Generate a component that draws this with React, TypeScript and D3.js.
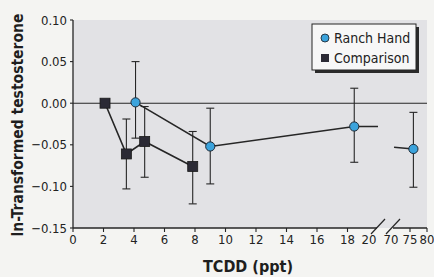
import React from "react";
import * as d3 from "d3";

// ---- data ----
const xTicks = [0, 2, 4, 6, 8, 10, 12, 14, 16, 18, 75, 80];
const xTickLabels = ["0", "2", "4", "6", "8", "10", "12", "14", "16", "18", "20", "70", "75", "80"];
const xLabelValues = [0, 2, 4, 6, 8, 10, 12, 14, 16, 18, 20, 70, 75, 80];
const yTicks = [0.1, 0.05, 0, -0.05, -0.1, -0.15];

const rhX = [4.1, 9.0, 18.6, 76];
const rhY = [0.001, -0.052, -0.028, -0.055];
const rhLo = [-0.042, -0.097, -0.071, -0.101];
const rhHi = [0.05, -0.006, 0.018, -0.011];
// line stubs into the axis break
const rhStubLeft = [39, -0.028];
const rhStubRight = [70.8, -0.053];

const cpX = [2.1, 3.5, 4.7, 7.85];
const cpY = [0.0, -0.061, -0.046, -0.076];
const cpLo: (number | null)[] = [null, -0.103, -0.089, -0.121];
const cpHi: (number | null)[] = [null, -0.019, -0.004, -0.034];

const W = 434;
const H = 277;
const left = 73;
const right = 427;
const top = 20;
const bottom = 228;

const font = "'Liberation Sans Narrow', 'DejaVu Sans Condensed', 'Roboto Condensed', 'Liberation Sans', sans-serif";

export default function App() {
  const x = d3.scaleLinear().domain([0, 18, 20, 70, 75, 80]).range([left, 347.5, 370, 391, 410, right]);
  const y = d3.scaleLinear().domain([-0.15, 0.1]).range([bottom, top]);
  const line = d3.line<[number, number]>().x((d) => x(d[0])).y((d) => y(d[1]));

  const rhPts: [number, number][] = rhX.map((v, i) => [v, rhY[i]]);
  const cpPts: [number, number][] = cpX.map((v, i) => [v, cpY[i]]);
  const rhSeg1: [number, number][] = [...rhPts.slice(0, 3), [rhStubLeft[0], rhStubLeft[1]]];
  const rhSeg2: [number, number][] = [[rhStubRight[0], rhStubRight[1]], rhPts[3]];

  const ink = "#262626";
  const cap = 4;

  const errBar = (xv: number, lo: number, hi: number, key: string) => (
    <g key={key} stroke={ink} strokeWidth={1.1}>
      <line x1={x(xv)} x2={x(xv)} y1={y(lo)} y2={y(hi)} />
      <line x1={x(xv) - cap} x2={x(xv) + cap} y1={y(lo)} y2={y(lo)} />
      <line x1={x(xv) - cap} x2={x(xv) + cap} y1={y(hi)} y2={y(hi)} />
    </g>
  );

  const breakA = 372;
  const breakB = 387;

  return (
    <svg width={W} height={H} style={{ position: "absolute", left: 0, top: 0, background: "#f4f4f2" }}>
      <rect x={left} y={top} width={right - left} height={bottom - top} fill="#e2e2e5" />
      {/* zero line */}
      <line x1={left} x2={right} y1={y(0)} y2={y(0)} stroke={ink} strokeWidth={1.1} />

      {/* error bars */}
      {cpX.map((v, i) => (cpLo[i] !== null ? errBar(v, cpLo[i] as number, cpHi[i] as number, "c" + i) : null))}
      {rhX.map((v, i) => errBar(v, rhLo[i], rhHi[i], "r" + i))}

      {/* lines */}
      <path d={line(cpPts) || ""} fill="none" stroke={ink} strokeWidth={1.6} />
      <path d={line(rhSeg1) || ""} fill="none" stroke={ink} strokeWidth={1.6} />
      <path d={line(rhSeg2) || ""} fill="none" stroke={ink} strokeWidth={1.6} />

      {/* markers */}
      {cpPts.map((p, i) => (
        <rect key={"cs" + i} x={x(p[0]) - 5} y={y(p[1]) - 5} width={10} height={10} fill="#2b2a35" stroke="#1a1a1a" strokeWidth={0.8} />
      ))}
      {rhPts.map((p, i) => (
        <circle key={"rc" + i} cx={x(p[0])} cy={y(p[1])} r={4.6} fill="#3ba3dc" stroke="#1f2a36" strokeWidth={1} />
      ))}

      {/* y axis */}
      <line x1={left} x2={left} y1={top} y2={bottom} stroke={ink} strokeWidth={1.3} />
      {yTicks.map((t) => (
        <g key={"yt" + t}>
          <line x1={left - 3} x2={left} y1={y(t)} y2={y(t)} stroke={ink} strokeWidth={1.1} />
          <text x={left - 6} y={y(t)} dy="0.35em" textAnchor="end" fontFamily={font} fontSize={13} fill="#222" style={{ fontStretch: "condensed" }}>
            {t === 0 ? "0.00" : (t < 0 ? "\u2212" : "") + d3.format(".2f")(Math.abs(t))}
          </text>
        </g>
      ))}

      {/* x axis */}
      <line x1={left} x2={breakA + 5} y1={bottom} y2={bottom} stroke={ink} strokeWidth={1.3} />
      <line x1={breakB + 6} x2={right} y1={bottom} y2={bottom} stroke={ink} strokeWidth={1.3} />
      {xTicks.map((t) => (
        <line key={"xt" + t} x1={x(t)} x2={x(t)} y1={bottom} y2={bottom + 4} stroke={ink} strokeWidth={1.1} />
      ))}
      {[breakA, breakB].map((bx) => (
        <line key={"br" + bx} x1={bx - 1} y1={bottom + 6} x2={bx + 13} y2={bottom - 9} stroke={ink} strokeWidth={1.2} />
      ))}
      {xLabelValues.map((v, i) => (
        <text key={"xl" + v} x={x(v) + (v === 20 ? -1 : 0)} y={bottom + 16} textAnchor="middle" fontFamily={font} fontSize={13} fill="#222" style={{ fontStretch: "condensed" }}>
          {xTickLabels[i]}
        </text>
      ))}

      {/* axis titles */}
      <text x={248} y={272} textAnchor="middle" fontFamily={font} fontWeight="bold" fontSize={16} fill="#1e1e1e" style={{ fontStretch: "condensed" }}>
        TCDD (ppt)
      </text>
      <text transform={`translate(23,${(top + bottom) / 2 + 1}) rotate(-90)`} textAnchor="middle" fontFamily={font} fontWeight="bold" fontSize={15.5} fill="#1e1e1e" style={{ fontStretch: "condensed" }}>
        ln-Transformed testosterone
      </text>

      {/* legend */}
      <rect x={315} y={27} width={104} height={46} fill="#2a2a2a" />
      <rect x={312} y={24} width={104} height={46} fill="#f7f7f7" stroke={ink} strokeWidth={1} />
      <circle cx={325} cy={38} r={4} fill="#3ba3dc" stroke="#1f2a36" strokeWidth={0.9} />
      <text x={334} y={38} dy="0.35em" fontFamily={font} fontSize={14} fill="#222" style={{ fontStretch: "condensed" }}>Ranch Hand</text>
      <rect x={321} y={54} width={8} height={8} fill="#2b2a35" />
      <text x={334} y={58} dy="0.35em" fontFamily={font} fontSize={14} fill="#222" style={{ fontStretch: "condensed" }}>Comparison</text>
    </svg>
  );
}
